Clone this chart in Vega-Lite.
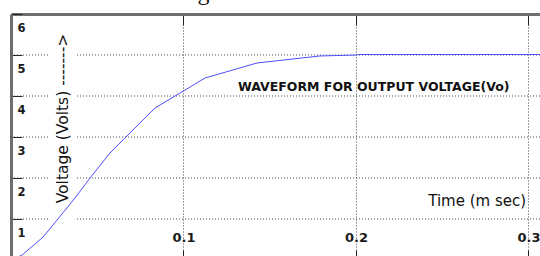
{
  "$schema": "https://vega.github.io/schema/vega-lite/v6.json",
  "width": 529,
  "height": 242,
  "autosize": "none",
  "padding": {"left": 11, "top": 14, "right": 0, "bottom": 0},
  "background": "white",
  "config": {"view": {"stroke": null}},
  "datasets": {
    "curve": [
      {"t": 0, "v": 0},
      {"t": 0.0064, "v": 0.12},
      {"t": 0.0186, "v": 0.561},
      {"t": 0.0272, "v": 1.0},
      {"t": 0.0371, "v": 1.512},
      {"t": 0.0458, "v": 2.0},
      {"t": 0.0574, "v": 2.61},
      {"t": 0.0765, "v": 3.415},
      {"t": 0.0835, "v": 3.707},
      {"t": 0.1009, "v": 4.146},
      {"t": 0.1125, "v": 4.439},
      {"t": 0.1426, "v": 4.805},
      {"t": 0.1791, "v": 4.976},
      {"t": 0.2006, "v": 5.0},
      {"t": 0.2012, "v": 5.012},
      {"t": 0.30667, "v": 5.012}
    ],
    "hgrid": [
      {"v": 1, "t1": 0, "t2": 0.0226}, {"v": 1, "t1": 0.0383, "t2": 0.30667},
      {"v": 2, "t1": 0, "t2": 0.0226}, {"v": 2, "t1": 0.0383, "t2": 0.30667},
      {"v": 3, "t1": 0, "t2": 0.0226}, {"v": 3, "t1": 0.0383, "t2": 0.30667},
      {"v": 4, "t1": 0, "t2": 0.0226}, {"v": 4, "t1": 0.0383, "t2": 0.30667},
      {"v": 5, "t1": 0, "t2": 0.0226}, {"v": 5, "t1": 0.0383, "t2": 0.30667}
    ]
  },
  "resolve": {"axis": {"x": "independent"}},
  "layer": [
    {
      "data": {"name": "hgrid"},
      "mark": {"type": "rule", "color": "#444444", "strokeDash": [1, 2], "strokeWidth": 1},
      "encoding": {
        "x": {"field": "t1", "type": "quantitative",
              "scale": {"domain": [0, 0.30667], "nice": false, "zero": false},
              "axis": {"orient": "top", "values": [0.1, 0.2, 0.3], "labels": false, "title": null,
                       "domainColor": "#6e6e6e", "domainWidth": 3, "tickSize": -11, "tickColor": "#222222",
                       "grid": true, "gridDash": [1, 2], "gridColor": "#444444"}},
        "x2": {"field": "t2"},
        "y": {"field": "v", "type": "quantitative",
              "scale": {"domain": [0.0976, 6], "nice": false, "zero": false},
              "axis": {"orient": "left", "values": [1, 2, 3, 4, 5, 6], "title": null,
                       "domainColor": "#6e6e6e", "domainWidth": 3, "tickSize": -11, "tickColor": "#222222",
                       "grid": false, "labelAlign": "left", "labelBaseline": "alphabetic", "labelPadding": 5,
                       "labelOffset": 17, "labelFont": "DejaVu Sans", "labelFontWeight": "bold", "labelFontSize": 11.5,
                       "labelColor": "#1a1a1a"}}
      }
    },
    {
      "data": {"name": "curve"},
      "mark": {"type": "line", "color": "#4f4fff", "strokeWidth": 1, "clip": true},
      "encoding": {
        "x": {"field": "t", "type": "quantitative",
              "axis": {"orient": "bottom", "values": [0.1, 0.2, 0.3], "title": null, "domain": false,
                       "tickSize": -6, "tickColor": "#222222", "grid": false,
                       "labelBaseline": "alphabetic", "labelPadding": -9, "labelFont": "DejaVu Sans",
                       "labelFontWeight": "bold", "labelFontSize": 13, "labelColor": "#1a1a1a"}},
        "y": {"field": "v", "type": "quantitative"}
      }
    },
    {
      "data": {"values": [{"t": 0.1316, "v": 4.122, "label": "WAVEFORM FOR OUTPUT VOLTAGE(Vo)"}]},
      "mark": {"type": "text", "align": "left", "baseline": "alphabetic", "font": "DejaVu Sans", "fontWeight": "bold", "fontSize": 12.5, "color": "#111111"},
      "encoding": {"x": {"field": "t", "type": "quantitative", "axis": null}, "y": {"field": "v", "type": "quantitative"}, "text": {"field": "label"}}
    },
    {
      "data": {"values": [{"t": 0.2986, "v": 1.317, "label": "Time (m sec)"}]},
      "mark": {"type": "text", "align": "right", "baseline": "alphabetic", "font": "DejaVu Sans", "fontSize": 15, "color": "#111111"},
      "encoding": {"x": {"field": "t", "type": "quantitative", "axis": null}, "y": {"field": "v", "type": "quantitative"}, "text": {"field": "label"}}
    },
    {
      "data": {"values": [{"t": 0.033, "v": 3.451, "label": "Voltage (Volts) ------->"}]},
      "mark": {"type": "text", "angle": 270, "align": "center", "baseline": "alphabetic", "font": "DejaVu Sans", "fontSize": 15.5, "color": "#111111"},
      "encoding": {"x": {"field": "t", "type": "quantitative", "axis": null}, "y": {"field": "v", "type": "quantitative"}, "text": {"field": "label"}}
    },
    {
      "data": {"values": [{"t": 0.0748, "v": 6.341, "label": "Sliding Mode Controller"}]},
      "mark": {"type": "text", "align": "left", "baseline": "alphabetic", "font": "Liberation Serif", "fontSize": 24, "color": "#111111"},
      "encoding": {"x": {"field": "t", "type": "quantitative", "axis": null}, "y": {"field": "v", "type": "quantitative"}, "text": {"field": "label"}}
    }
  ]
}
